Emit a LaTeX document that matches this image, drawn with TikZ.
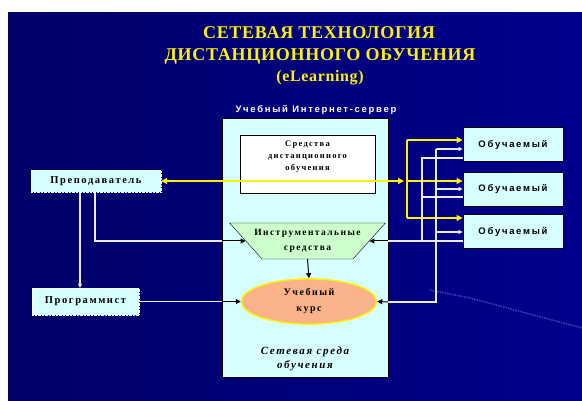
\documentclass[tikz,border=0pt]{standalone}
\usepackage{fontspec}
\setmainfont{Liberation Serif}
\newfontfamily\titlefont[LetterSpace=4]{Liberation Serif}
\newfontfamily\boxfont[LetterSpace=15]{Liberation Serif}
\newfontfamily\sanslabel[LetterSpace=18]{Liberation Sans}
\usetikzlibrary{calc,positioning,shapes.geometric,arrows.meta}
\usepackage{xcolor}
\definecolor{navy}{RGB}{0,0,140}
\definecolor{navydark}{RGB}{0,0,105}
\definecolor{paleblue}{RGB}{214,255,255}
\definecolor{palegreen}{RGB}{204,255,204}
\definecolor{peach}{RGB}{249,178,138}

\begin{document}
\begin{tikzpicture}[x=1pt,y=-1pt,
    person/.style={draw=white, densely dotted, fill=paleblue, minimum width=130, minimum height=22,
      font=\boxfont\bfseries\fontsize{10.5}{12}\selectfont, text=black},
    learner/.style={draw=black, thick, fill=paleblue, minimum width=100, minimum height=34,
      font=\sanslabel\bfseries\fontsize{9.5}{11}\selectfont, text=black},
    yline/.style={yellow, line width=1.4pt},
    wline/.style={white!85!gray, line width=1.2pt},
    barrow/.style={black, line width=1pt, -{Triangle[length=5pt,width=5pt]}},
    warrow/.style={wline, -{Triangle[length=4pt,width=4pt]}},
    yarrow/.style={yline, -{Triangle[length=6pt,width=6pt]}},
    innertext/.style={font=\boxfont\bfseries\fontsize{9.5}{15}\selectfont, align=center, text=black}]

        % Background
        \useasboundingbox (0,0) rectangle (582,401);
        \fill[white] (0,0) rectangle (582,401);
        \shade[left color=navydark, right color=navy] (8,13) rectangle (582,401);
        \draw[blue!45!white, densely dotted, line width=1.5pt, opacity=0.45] (430,290) -- (470,298) -- (582,328);

        % Title
        \node[yellow, font=\titlefont\bfseries\fontsize{18}{20}\selectfont] (title1) at (319,33) {СЕТЕВАЯ ТЕХНОЛОГИЯ};
        \node[yellow, font=\titlefont\bfseries\fontsize{18}{20}\selectfont] (title2) at (320,56) {ДИСТАНЦИОННОГО ОБУЧЕНИЯ};
        \node[yellow, font=\titlefont\bfseries\fontsize{16}{18}\selectfont] (title3) at (320,78) {(eLearning)};

        % Server
        \node[white, font=\sanslabel\bfseries\fontsize{9.5}{11}\selectfont] (srvname) at (316,110) {Учебный Интернет-сервер};
        \node[draw=black, thick, fill=paleblue, minimum width=166, minimum height=259] (server) at (305,247.5) {};
        \node[draw=black, thick, fill=white, minimum width=135, minimum height=58] (distance) at (307.5,164) {};
        \node[innertext, font=\boxfont\bfseries\fontsize{8.5}{12}\selectfont] (distext) at (307.5,157)
          {Средства\\дистанционного\\обучения};
        \node[trapezium, shape border rotate=180, trapezium angle=48, inner xsep=45.5, inner ysep=18,
          draw=black, fill=palegreen] (tools) at (307.5,241) {};
        \node[innertext] (toolstext) at (tools) {Инструментальные\\средства};
        \node[ellipse, draw=yellow, line width=1.5pt, fill=peach, minimum width=135, minimum height=43,
          innertext, font=\boxfont\bfseries\fontsize{10}{16}\selectfont] (course) at (309,301.5) {Учебный\\курс};
        \node[font=\boxfont\bfseries\itshape\fontsize{11}{14}\selectfont, align=center] (env) at (305,359)
          {Сетевая среда\\обучения};
        \draw[barrow] (tools.south) -- (course.north);

        % Teacher and programmer
        \node[person] (teacher) at (96,181.5) {Преподаватель};
        \node[person, minimum width=107, minimum height=27] (coder) at (85.5,301.5) {Программист};
        \draw[warrow] (teacher.south -| 80,0) -- (coder.north -| 80,0);
        \draw[wline] (teacher.south -| 95,0) -- (95,241) -- (server.west |- tools.west);
        \draw[barrow] (server.west |- tools.west) -- (tools.west);
        \draw[wline] (coder.east) -- (server.west |- coder.east);
        \draw[barrow] (server.west |- coder.east) -- (course.west);

        % Learners
        \node[learner] (learnerA) at (513,144.5) {Обучаемый};
        \node[learner] (learnerB) at (513,189) {Обучаемый};
        \node[learner] (learnerC) at (513,231.5) {Обучаемый};

        % Yellow links
        \coordinate (yend) at (404,181);
        \coordinate (ytop) at (407,140);
        \coordinate (ybot) at (407,218);
        \draw[yline, {Triangle[length=6pt,width=6pt]}-{Triangle[length=6pt,width=6pt]}] (teacher.east |- yend) -- (yend);
        \draw[yline] (ytop) -- (ybot);
        \draw[yarrow] (ytop) -- (ytop -| learnerA.west);
        \draw[yarrow] (407,181) -- (learnerB.west |- yend);
        \draw[yarrow] (ybot) -- (ybot -| learnerC.west);

        % White links, to the learners
        \coordinate (wtop) at (436,149);
        \coordinate (wbot) at (436,302);
        \draw[wline] (wtop) -- (wbot) -- (server.east |- wbot);
        \draw[barrow] (server.east |- wbot) -- (course.east);
        \draw[warrow] (wtop) -- (wtop -| learnerA.west);
        \draw[warrow] (436,189) -- (learnerB.west |- 0,189);
        \draw[warrow] (436,232) -- (learnerC.west |- 0,232);

        % White links, from the learners
        \coordinate (btop) at (422,158);
        \coordinate (bbot) at (422,241);
        \draw[wline] (learnerA.west |- btop) -- (btop) -- (bbot);
        \draw[wline] (learnerB.west |- 0,197) -- (422,197);
        \draw[wline] (learnerC.west |- bbot) -- (server.east |- bbot);
        \draw[barrow] (server.east |- bbot) -- (tools.east);
    \end{tikzpicture}
\end{document}
